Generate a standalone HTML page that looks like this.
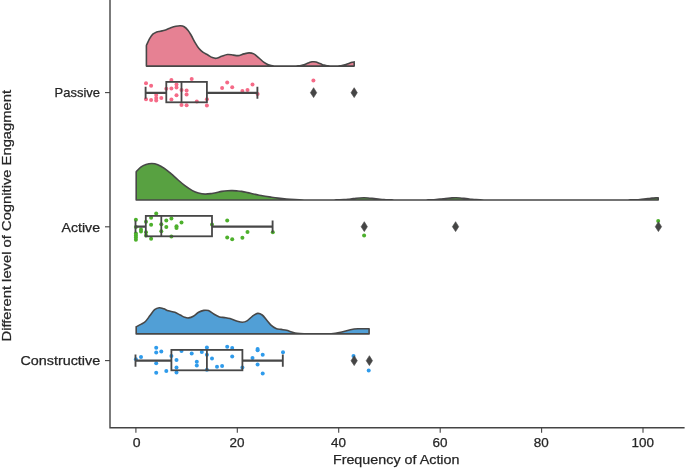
<!DOCTYPE html>
<html lang="en">
<head>
<meta charset="utf-8">
<title>Raincloud plot - Frequency of Action by Cognitive Engagement</title>
<style>
html,body{margin:0;padding:0;background:#fff;}
body{width:685px;height:468px;overflow:hidden;font-family:"Liberation Sans",sans-serif;}
svg{display:block;will-change:transform;filter:blur(0.4px);}
</style>
</head>
<body>
<svg width="685" height="468" viewBox="0 0 685 468">
<rect width="685" height="468" fill="#fff"/>
<path d="M146.40 66.10 L146.40 45.50C146.93 44.37 148.53 40.58 149.60 38.70C150.67 36.82 151.62 35.33 152.80 34.20C153.98 33.07 155.42 32.40 156.70 31.90C157.98 31.40 159.02 31.53 160.50 31.20C161.98 30.87 163.88 30.47 165.60 29.90C167.32 29.33 169.08 28.40 170.80 27.80C172.52 27.20 174.30 26.63 175.90 26.30C177.50 25.97 179.02 25.72 180.40 25.80C181.78 25.88 182.92 26.03 184.20 26.80C185.48 27.57 186.92 28.95 188.10 30.40C189.28 31.85 190.13 33.47 191.30 35.50C192.47 37.53 193.82 40.42 195.10 42.60C196.38 44.78 197.72 47.00 199.00 48.60C200.28 50.20 201.32 51.13 202.80 52.20C204.28 53.27 206.30 54.10 207.90 55.00C209.50 55.90 211.00 57.05 212.40 57.60C213.80 58.15 214.75 58.52 216.30 58.30C217.85 58.08 219.83 56.93 221.70 56.30C223.57 55.67 225.55 54.70 227.50 54.50C229.45 54.30 231.65 54.92 233.40 55.10C235.15 55.28 236.25 55.80 238.00 55.60C239.75 55.40 242.05 54.35 243.90 53.90C245.75 53.45 247.45 52.90 249.10 52.90C250.75 52.90 252.15 53.05 253.80 53.90C255.45 54.75 257.35 56.63 259.00 58.00C260.65 59.37 262.13 60.97 263.70 62.10C265.27 63.23 266.65 64.15 268.40 64.80C270.15 65.45 271.43 65.78 274.20 66.00C276.97 66.22 282.03 66.09 285.00 66.10C287.97 66.11 290.50 66.09 292.00 66.09C293.50 66.08 293.33 66.08 294.00 66.07C294.67 66.05 295.33 66.04 296.00 66.01C296.67 65.99 297.33 65.96 298.00 65.90C298.67 65.84 299.33 65.78 300.00 65.67C300.67 65.57 301.33 65.45 302.00 65.29C302.67 65.13 303.33 64.93 304.00 64.71C304.67 64.48 305.33 64.21 306.00 63.94C306.67 63.67 307.33 63.36 308.00 63.09C308.67 62.82 309.33 62.53 310.00 62.31C310.67 62.10 311.33 61.91 312.00 61.81C312.67 61.71 313.33 61.68 314.00 61.72C314.67 61.76 315.33 61.90 316.00 62.07C316.67 62.24 317.33 62.50 318.00 62.76C318.67 63.01 319.33 63.33 320.00 63.60C320.67 63.88 321.33 64.17 322.00 64.42C322.67 64.66 323.33 64.89 324.00 65.08C324.67 65.27 325.33 65.42 326.00 65.54C326.67 65.67 327.33 65.75 328.00 65.82C328.67 65.90 329.33 65.94 330.00 65.98C330.67 66.01 331.33 66.03 332.00 66.05C332.67 66.06 333.33 66.07 334.00 66.07C334.67 66.07 335.33 66.06 336.00 66.05C336.67 66.03 337.33 66.02 338.00 65.98C338.67 65.95 339.33 65.91 340.00 65.84C340.67 65.77 341.33 65.69 342.00 65.57C342.67 65.45 343.33 65.30 344.00 65.13C344.67 64.95 345.33 64.73 346.00 64.50C346.67 64.26 347.33 63.98 348.00 63.72C348.67 63.45 349.33 63.15 350.00 62.91C350.67 62.67 351.33 62.42 352.00 62.25C352.67 62.09 353.63 61.98 354.00 61.92C354.37 61.86 354.17 61.90 354.20 61.90L354.20 66.10 Z" fill="#E68193" stroke="#474747" stroke-width="1.6" stroke-linejoin="round"/>
<path d="M136.20 200.00 L136.20 171.70C136.97 170.93 139.17 168.30 140.80 167.10C142.43 165.90 144.15 165.10 146.00 164.50C147.85 163.90 149.93 163.47 151.90 163.50C153.87 163.53 155.72 163.88 157.80 164.70C159.88 165.52 162.20 166.90 164.40 168.40C166.60 169.90 168.80 171.85 171.00 173.70C173.20 175.55 175.28 177.50 177.60 179.50C179.92 181.50 182.43 183.85 184.90 185.70C187.37 187.55 190.15 189.38 192.40 190.60C194.65 191.82 196.28 192.42 198.40 193.00C200.52 193.58 202.85 194.02 205.10 194.10C207.35 194.18 210.08 193.73 211.90 193.50C213.72 193.27 214.33 193.05 216.00 192.70C217.67 192.35 219.95 191.73 221.90 191.40C223.85 191.07 225.95 190.83 227.70 190.70C229.45 190.57 230.85 190.57 232.40 190.60C233.95 190.63 235.45 190.77 237.00 190.90C238.55 191.03 239.93 191.12 241.70 191.40C243.47 191.68 245.65 192.17 247.60 192.60C249.55 193.03 251.47 193.57 253.40 194.00C255.33 194.43 257.25 194.83 259.20 195.20C261.15 195.57 263.15 195.88 265.10 196.20C267.05 196.52 268.75 196.78 270.90 197.10C273.05 197.42 275.42 197.78 278.00 198.10C280.58 198.42 283.57 198.75 286.40 199.00C289.23 199.25 292.07 199.43 295.00 199.60C297.93 199.77 301.83 199.93 304.00 200.00C306.17 200.07 306.67 200.00 308.00 200.00C309.33 200.00 310.67 200.00 312.00 200.00C313.33 200.00 314.67 200.00 316.00 200.00C317.33 200.00 318.67 200.00 320.00 200.00C321.33 200.00 322.67 200.00 324.00 200.00C325.33 200.00 326.67 199.99 328.00 199.99C329.33 199.99 330.67 199.98 332.00 199.97C333.33 199.96 334.67 199.94 336.00 199.92C337.33 199.89 338.67 199.86 340.00 199.80C341.33 199.75 342.67 199.68 344.00 199.59C345.33 199.49 346.67 199.38 348.00 199.25C349.33 199.12 350.67 198.95 352.00 198.80C353.33 198.64 354.67 198.46 356.00 198.32C357.33 198.18 358.67 198.03 360.00 197.95C361.33 197.86 362.67 197.80 364.00 197.80C365.33 197.80 366.67 197.85 368.00 197.93C369.33 198.02 370.67 198.16 372.00 198.30C373.33 198.44 374.67 198.62 376.00 198.77C377.33 198.93 378.67 199.09 380.00 199.23C381.33 199.36 382.67 199.48 384.00 199.57C385.33 199.67 386.67 199.74 388.00 199.79C389.33 199.85 390.67 199.88 392.00 199.91C393.33 199.94 394.67 199.95 396.00 199.97C397.33 199.98 398.67 199.98 400.00 199.99C401.33 199.99 402.67 200.00 404.00 200.00C405.33 200.00 406.67 200.00 408.00 200.00C409.33 200.00 410.67 200.00 412.00 200.00C413.33 200.00 414.67 200.00 416.00 200.00C417.33 199.99 418.67 199.99 420.00 199.99C421.33 199.98 422.67 199.98 424.00 199.96C425.33 199.95 426.67 199.93 428.00 199.90C429.33 199.87 430.67 199.83 432.00 199.77C433.33 199.71 434.67 199.63 436.00 199.54C437.33 199.44 438.67 199.31 440.00 199.17C441.33 199.04 442.67 198.87 444.00 198.71C445.33 198.56 446.67 198.38 448.00 198.25C449.33 198.11 450.67 197.98 452.00 197.90C453.33 197.83 454.67 197.79 456.00 197.80C457.33 197.82 458.67 197.89 460.00 197.98C461.33 198.08 462.67 198.23 464.00 198.38C465.33 198.53 466.67 198.71 468.00 198.86C469.33 199.01 470.67 199.17 472.00 199.30C473.33 199.42 474.67 199.53 476.00 199.62C477.33 199.71 478.67 199.77 480.00 199.82C481.33 199.87 482.67 199.90 484.00 199.93C485.33 199.95 486.67 199.96 488.00 199.97C489.33 199.98 490.67 199.99 492.00 199.99C493.33 200.00 494.67 200.00 496.00 200.00C497.33 200.00 498.67 200.00 500.00 200.00C501.33 200.00 502.67 200.00 504.00 200.00C505.33 200.00 506.67 200.00 508.00 200.00C509.33 200.00 510.67 200.00 512.00 200.00C513.33 200.00 514.67 200.00 516.00 200.00C517.33 200.00 518.67 200.00 520.00 200.00C521.33 200.00 522.67 200.00 524.00 200.00C525.33 200.00 526.67 200.00 528.00 200.00C529.33 200.00 530.67 200.00 532.00 200.00C533.33 200.00 534.67 200.00 536.00 200.00C537.33 200.00 538.67 200.00 540.00 200.00C541.33 200.00 542.67 200.00 544.00 200.00C545.33 200.00 546.67 200.00 548.00 200.00C549.33 200.00 550.67 200.00 552.00 200.00C553.33 200.00 554.67 200.00 556.00 200.00C557.33 200.00 558.67 200.00 560.00 200.00C561.33 200.00 562.67 200.00 564.00 200.00C565.33 200.00 566.67 200.00 568.00 200.00C569.33 200.00 570.67 200.00 572.00 200.00C573.33 200.00 574.67 200.00 576.00 200.00C577.33 200.00 578.67 200.00 580.00 200.00C581.33 200.00 582.67 200.00 584.00 200.00C585.33 200.00 586.67 200.00 588.00 200.00C589.33 200.00 590.67 200.00 592.00 200.00C593.33 200.00 594.67 200.00 596.00 200.00C597.33 200.00 598.67 200.00 600.00 200.00C601.33 200.00 602.67 200.00 604.00 200.00C605.33 200.00 606.67 200.00 608.00 200.00C609.33 200.00 610.67 200.00 612.00 200.00C613.33 200.00 614.67 200.00 616.00 200.00C617.33 200.00 618.67 200.00 620.00 200.00C621.33 199.99 622.67 199.99 624.00 199.98C625.33 199.98 626.67 199.97 628.00 199.95C629.33 199.93 630.67 199.91 632.00 199.88C633.33 199.84 634.67 199.79 636.00 199.72C637.33 199.65 638.67 199.57 640.00 199.46C641.33 199.35 642.67 199.21 644.00 199.07C645.33 198.92 646.67 198.75 648.00 198.59C649.33 198.44 650.67 198.27 652.00 198.14C653.33 198.02 654.97 197.91 656.00 197.85C657.03 197.79 657.83 197.81 658.20 197.80L658.20 200.00 Z" fill="#58A141" stroke="#474747" stroke-width="1.6" stroke-linejoin="round"/>
<path d="M136.20 333.90 L136.20 326.80C136.97 326.40 139.27 325.28 140.80 324.40C142.33 323.52 143.87 322.97 145.40 321.50C146.93 320.03 148.47 317.57 150.00 315.60C151.53 313.63 153.07 311.02 154.60 309.70C156.13 308.38 157.67 307.85 159.20 307.70C160.73 307.55 162.27 308.28 163.80 308.80C165.33 309.32 166.55 310.22 168.40 310.80C170.25 311.38 172.93 311.60 174.90 312.30C176.87 313.00 178.55 314.17 180.20 315.00C181.85 315.83 183.38 316.82 184.80 317.30C186.22 317.78 187.28 318.07 188.70 317.90C190.12 317.73 191.65 317.23 193.30 316.30C194.95 315.37 196.85 313.28 198.60 312.30C200.35 311.32 202.17 310.68 203.80 310.40C205.43 310.12 206.67 309.95 208.40 310.60C210.13 311.25 212.35 313.25 214.20 314.30C216.05 315.35 217.75 316.35 219.50 316.90C221.25 317.45 222.95 317.32 224.70 317.60C226.45 317.88 228.03 318.05 230.00 318.60C231.97 319.15 234.43 320.30 236.50 320.90C238.57 321.50 240.65 322.20 242.40 322.20C244.15 322.20 245.35 321.88 247.00 320.90C248.65 319.92 250.53 317.55 252.30 316.30C254.07 315.05 255.95 313.62 257.60 313.40C259.25 313.18 260.67 313.87 262.20 315.00C263.73 316.13 265.38 318.57 266.80 320.20C268.22 321.83 269.17 323.42 270.70 324.80C272.23 326.18 274.25 327.73 276.00 328.50C277.75 329.27 279.45 329.10 281.20 329.40C282.95 329.70 284.75 329.87 286.50 330.30C288.25 330.73 289.95 331.50 291.70 332.00C293.45 332.50 294.95 333.00 297.00 333.30C299.05 333.60 300.50 333.70 304.00 333.80C307.50 333.90 313.47 333.90 318.00 333.90C322.53 333.90 327.40 334.07 331.20 333.80C335.00 333.53 337.60 332.97 340.80 332.30C344.00 331.63 347.53 330.38 350.40 329.80C353.27 329.22 354.88 328.98 358.00 328.80C361.12 328.62 367.25 328.72 369.10 328.70L369.10 333.90 Z" fill="#519FD6" stroke="#474747" stroke-width="1.6" stroke-linejoin="round"/>
<g fill="#F56A87"><circle cx="146.0" cy="83.2" r="2.0"/><circle cx="151.1" cy="85.8" r="2.0"/><circle cx="146.0" cy="99.2" r="2.0"/><circle cx="151.1" cy="100.0" r="2.0"/><circle cx="156.2" cy="95.1" r="2.0"/><circle cx="156.2" cy="98.0" r="2.0"/><circle cx="156.2" cy="100.6" r="2.0"/><circle cx="161.3" cy="98.0" r="2.0"/><circle cx="166.3" cy="88.7" r="2.0"/><circle cx="171.4" cy="79.9" r="2.0"/><circle cx="171.4" cy="88.5" r="2.0"/><circle cx="171.4" cy="99.4" r="2.0"/><circle cx="176.5" cy="84.6" r="2.0"/><circle cx="176.5" cy="87.5" r="2.0"/><circle cx="176.5" cy="95.3" r="2.0"/><circle cx="181.5" cy="90.1" r="2.0"/><circle cx="181.5" cy="105.0" r="2.0"/><circle cx="186.6" cy="90.4" r="2.0"/><circle cx="186.6" cy="94.5" r="2.0"/><circle cx="186.6" cy="105.3" r="2.0"/><circle cx="191.7" cy="79.1" r="2.0"/><circle cx="196.8" cy="101.5" r="2.0"/><circle cx="206.9" cy="99.2" r="2.0"/><circle cx="206.9" cy="105.6" r="2.0"/><circle cx="222.1" cy="87.9" r="2.0"/><circle cx="227.2" cy="82.6" r="2.0"/><circle cx="232.2" cy="87.3" r="2.0"/><circle cx="242.4" cy="91.0" r="2.0"/><circle cx="247.5" cy="89.9" r="2.0"/><circle cx="252.5" cy="84.4" r="2.0"/><circle cx="257.6" cy="93.9" r="2.0"/><circle cx="313.4" cy="80.4" r="2.0"/><circle cx="354.0" cy="91.5" r="2.0"/></g>
<g fill="#4DB02C"><circle cx="135.9" cy="219.7" r="2.0"/><circle cx="135.9" cy="226.9" r="2.0"/><circle cx="135.9" cy="233.5" r="2.0"/><circle cx="135.9" cy="235.5" r="2.0"/><circle cx="135.9" cy="237.4" r="2.0"/><circle cx="135.9" cy="239.7" r="2.0"/><circle cx="141.0" cy="229.6" r="2.0"/><circle cx="141.0" cy="231.5" r="2.0"/><circle cx="146.0" cy="221.7" r="2.0"/><circle cx="146.0" cy="232.2" r="2.0"/><circle cx="146.0" cy="235.5" r="2.0"/><circle cx="151.1" cy="217.7" r="2.0"/><circle cx="151.1" cy="224.7" r="2.0"/><circle cx="151.1" cy="238.8" r="2.0"/><circle cx="156.2" cy="213.5" r="2.0"/><circle cx="161.3" cy="224.3" r="2.0"/><circle cx="161.3" cy="231.3" r="2.0"/><circle cx="166.3" cy="220.4" r="2.0"/><circle cx="166.3" cy="226.9" r="2.0"/><circle cx="171.4" cy="218.4" r="2.0"/><circle cx="171.4" cy="236.5" r="2.0"/><circle cx="176.5" cy="226.3" r="2.0"/><circle cx="176.5" cy="227.9" r="2.0"/><circle cx="181.5" cy="222.6" r="2.0"/><circle cx="212.0" cy="224.6" r="2.0"/><circle cx="227.2" cy="220.6" r="2.0"/><circle cx="227.2" cy="237.4" r="2.0"/><circle cx="232.2" cy="239.2" r="2.0"/><circle cx="242.4" cy="237.7" r="2.0"/><circle cx="247.5" cy="231.9" r="2.0"/><circle cx="272.8" cy="232.2" r="2.0"/><circle cx="364.1" cy="235.4" r="2.0"/><circle cx="455.4" cy="226.5" r="2.0"/><circle cx="658.2" cy="221.1" r="2.0"/></g>
<g fill="#2F9BEB"><circle cx="135.9" cy="359.3" r="2.0"/><circle cx="141.0" cy="356.9" r="2.0"/><circle cx="156.2" cy="347.7" r="2.0"/><circle cx="156.2" cy="352.5" r="2.0"/><circle cx="156.2" cy="363.2" r="2.0"/><circle cx="156.2" cy="372.8" r="2.0"/><circle cx="161.3" cy="351.4" r="2.0"/><circle cx="166.3" cy="370.9" r="2.0"/><circle cx="171.4" cy="356.0" r="2.0"/><circle cx="176.5" cy="360.0" r="2.0"/><circle cx="176.5" cy="367.5" r="2.0"/><circle cx="176.5" cy="372.4" r="2.0"/><circle cx="181.5" cy="351.0" r="2.0"/><circle cx="191.7" cy="353.4" r="2.0"/><circle cx="196.8" cy="361.7" r="2.0"/><circle cx="196.8" cy="365.6" r="2.0"/><circle cx="201.8" cy="352.1" r="2.0"/><circle cx="206.9" cy="347.5" r="2.0"/><circle cx="206.9" cy="354.7" r="2.0"/><circle cx="206.9" cy="369.8" r="2.0"/><circle cx="212.0" cy="358.4" r="2.0"/><circle cx="217.0" cy="366.7" r="2.0"/><circle cx="222.1" cy="366.1" r="2.0"/><circle cx="227.2" cy="346.7" r="2.0"/><circle cx="232.2" cy="348.1" r="2.0"/><circle cx="232.2" cy="356.5" r="2.0"/><circle cx="242.4" cy="367.4" r="2.0"/><circle cx="252.5" cy="357.9" r="2.0"/><circle cx="257.6" cy="349.0" r="2.0"/><circle cx="257.6" cy="350.2" r="2.0"/><circle cx="257.6" cy="364.6" r="2.0"/><circle cx="262.7" cy="354.7" r="2.0"/><circle cx="262.7" cy="373.4" r="2.0"/><circle cx="283.0" cy="352.2" r="2.0"/><circle cx="353.5" cy="356.1" r="2.0"/><circle cx="368.7" cy="370.4" r="2.0"/></g>
<g stroke="#474747" stroke-width="1.8" fill="none"><path d="M145.6 92.8H166.3M206.9 92.8H257.6" stroke-width="2.25"/><path d="M145.6 86.7V98.8M257.4 86.7V98.8" stroke-width="1.85"/><rect x="166.3" y="81.9" width="40.6" height="20.4"/><path d="M181.5 81.9V102.3"/></g><g fill="#454545" stroke="#454545" stroke-width="0.6" stroke-linejoin="miter"><path d="M313.6 87.7L316.7 92.7L313.6 97.6L310.4 92.7Z"/><path d="M354.2 87.7L357.3 92.7L354.2 97.6L351.0 92.7Z"/></g>
<g stroke="#474747" stroke-width="1.8" fill="none"><path d="M135.5 226.7H145.8M212.0 226.7H272.8" stroke-width="2.25"/><path d="M135.5 220.6V232.8M272.6 220.6V232.8" stroke-width="1.85"/><rect x="145.8" y="215.9" width="66.2" height="20.4"/><path d="M161.3 215.9V236.2"/></g><g fill="#454545" stroke="#454545" stroke-width="0.6" stroke-linejoin="miter"><path d="M364.3 221.7L367.4 226.7L364.3 231.6L361.1 226.7Z"/><path d="M455.6 221.7L458.7 226.7L455.6 231.6L452.4 226.7Z"/><path d="M658.4 221.7L661.6 226.7L658.4 231.6L655.3 226.7Z"/></g>
<g stroke="#474747" stroke-width="1.8" fill="none"><path d="M135.5 360.7H171.4M242.4 360.7H283.0" stroke-width="2.25"/><path d="M135.5 354.6V366.8M282.8 354.6V366.8" stroke-width="1.85"/><rect x="171.4" y="349.9" width="71.0" height="20.4"/><path d="M206.9 349.9V370.2"/></g><g fill="#454545" stroke="#454545" stroke-width="0.6" stroke-linejoin="miter"><path d="M354.2 355.7L357.3 360.7L354.2 365.6L351.0 360.7Z"/><path d="M369.4 355.7L372.5 360.7L369.4 365.6L366.2 360.7Z"/></g>
<g stroke="#444" stroke-width="1.1" fill="none"><path d="M110.0 0V427.8H684.6" stroke-width="1.4"/><path d="M135.9 427.8V432.8"/><path d="M237.3 427.8V432.8"/><path d="M338.7 427.8V432.8"/><path d="M440.2 427.8V432.8"/><path d="M541.6 427.8V432.8"/><path d="M643.0 427.8V432.8"/><path d="M105.0 92.6H110.0"/><path d="M105.0 226.8H110.0"/><path d="M105.0 360.6H110.0"/></g>
<g font-family="'Liberation Sans', sans-serif" font-size="12.4" fill="#262626" stroke="#262626" stroke-width="0.25"><text x="132.7" y="446.9" text-anchor="start" textLength="7.8" lengthAdjust="spacingAndGlyphs">0</text><text x="229.5" y="446.9" text-anchor="start" textLength="15.0" lengthAdjust="spacingAndGlyphs">20</text><text x="330.9" y="446.9" text-anchor="start" textLength="15.0" lengthAdjust="spacingAndGlyphs">40</text><text x="432.4" y="446.9" text-anchor="start" textLength="15.0" lengthAdjust="spacingAndGlyphs">60</text><text x="533.8" y="446.9" text-anchor="start" textLength="15.0" lengthAdjust="spacingAndGlyphs">80</text><text x="631.5" y="446.9" text-anchor="start" textLength="22.4" lengthAdjust="spacingAndGlyphs">100</text><text x="54.6" y="97.4" text-anchor="start" textLength="45.4" lengthAdjust="spacingAndGlyphs">Passive</text><text x="61.5" y="231.5" text-anchor="start" textLength="38.5" lengthAdjust="spacingAndGlyphs">Active</text><text x="20.4" y="365.2" text-anchor="start" textLength="79.8" lengthAdjust="spacingAndGlyphs">Constructive</text><text x="332.9" y="464.3" text-anchor="start" textLength="126.6" lengthAdjust="spacingAndGlyphs" font-size="13.4">Frequency of Action</text><text transform="translate(11.3 341.5) rotate(-90)" font-size="13.4" textLength="251.6" lengthAdjust="spacingAndGlyphs">Different level of Cognitive Engagment</text></g>
</svg>
</body>
</html>
